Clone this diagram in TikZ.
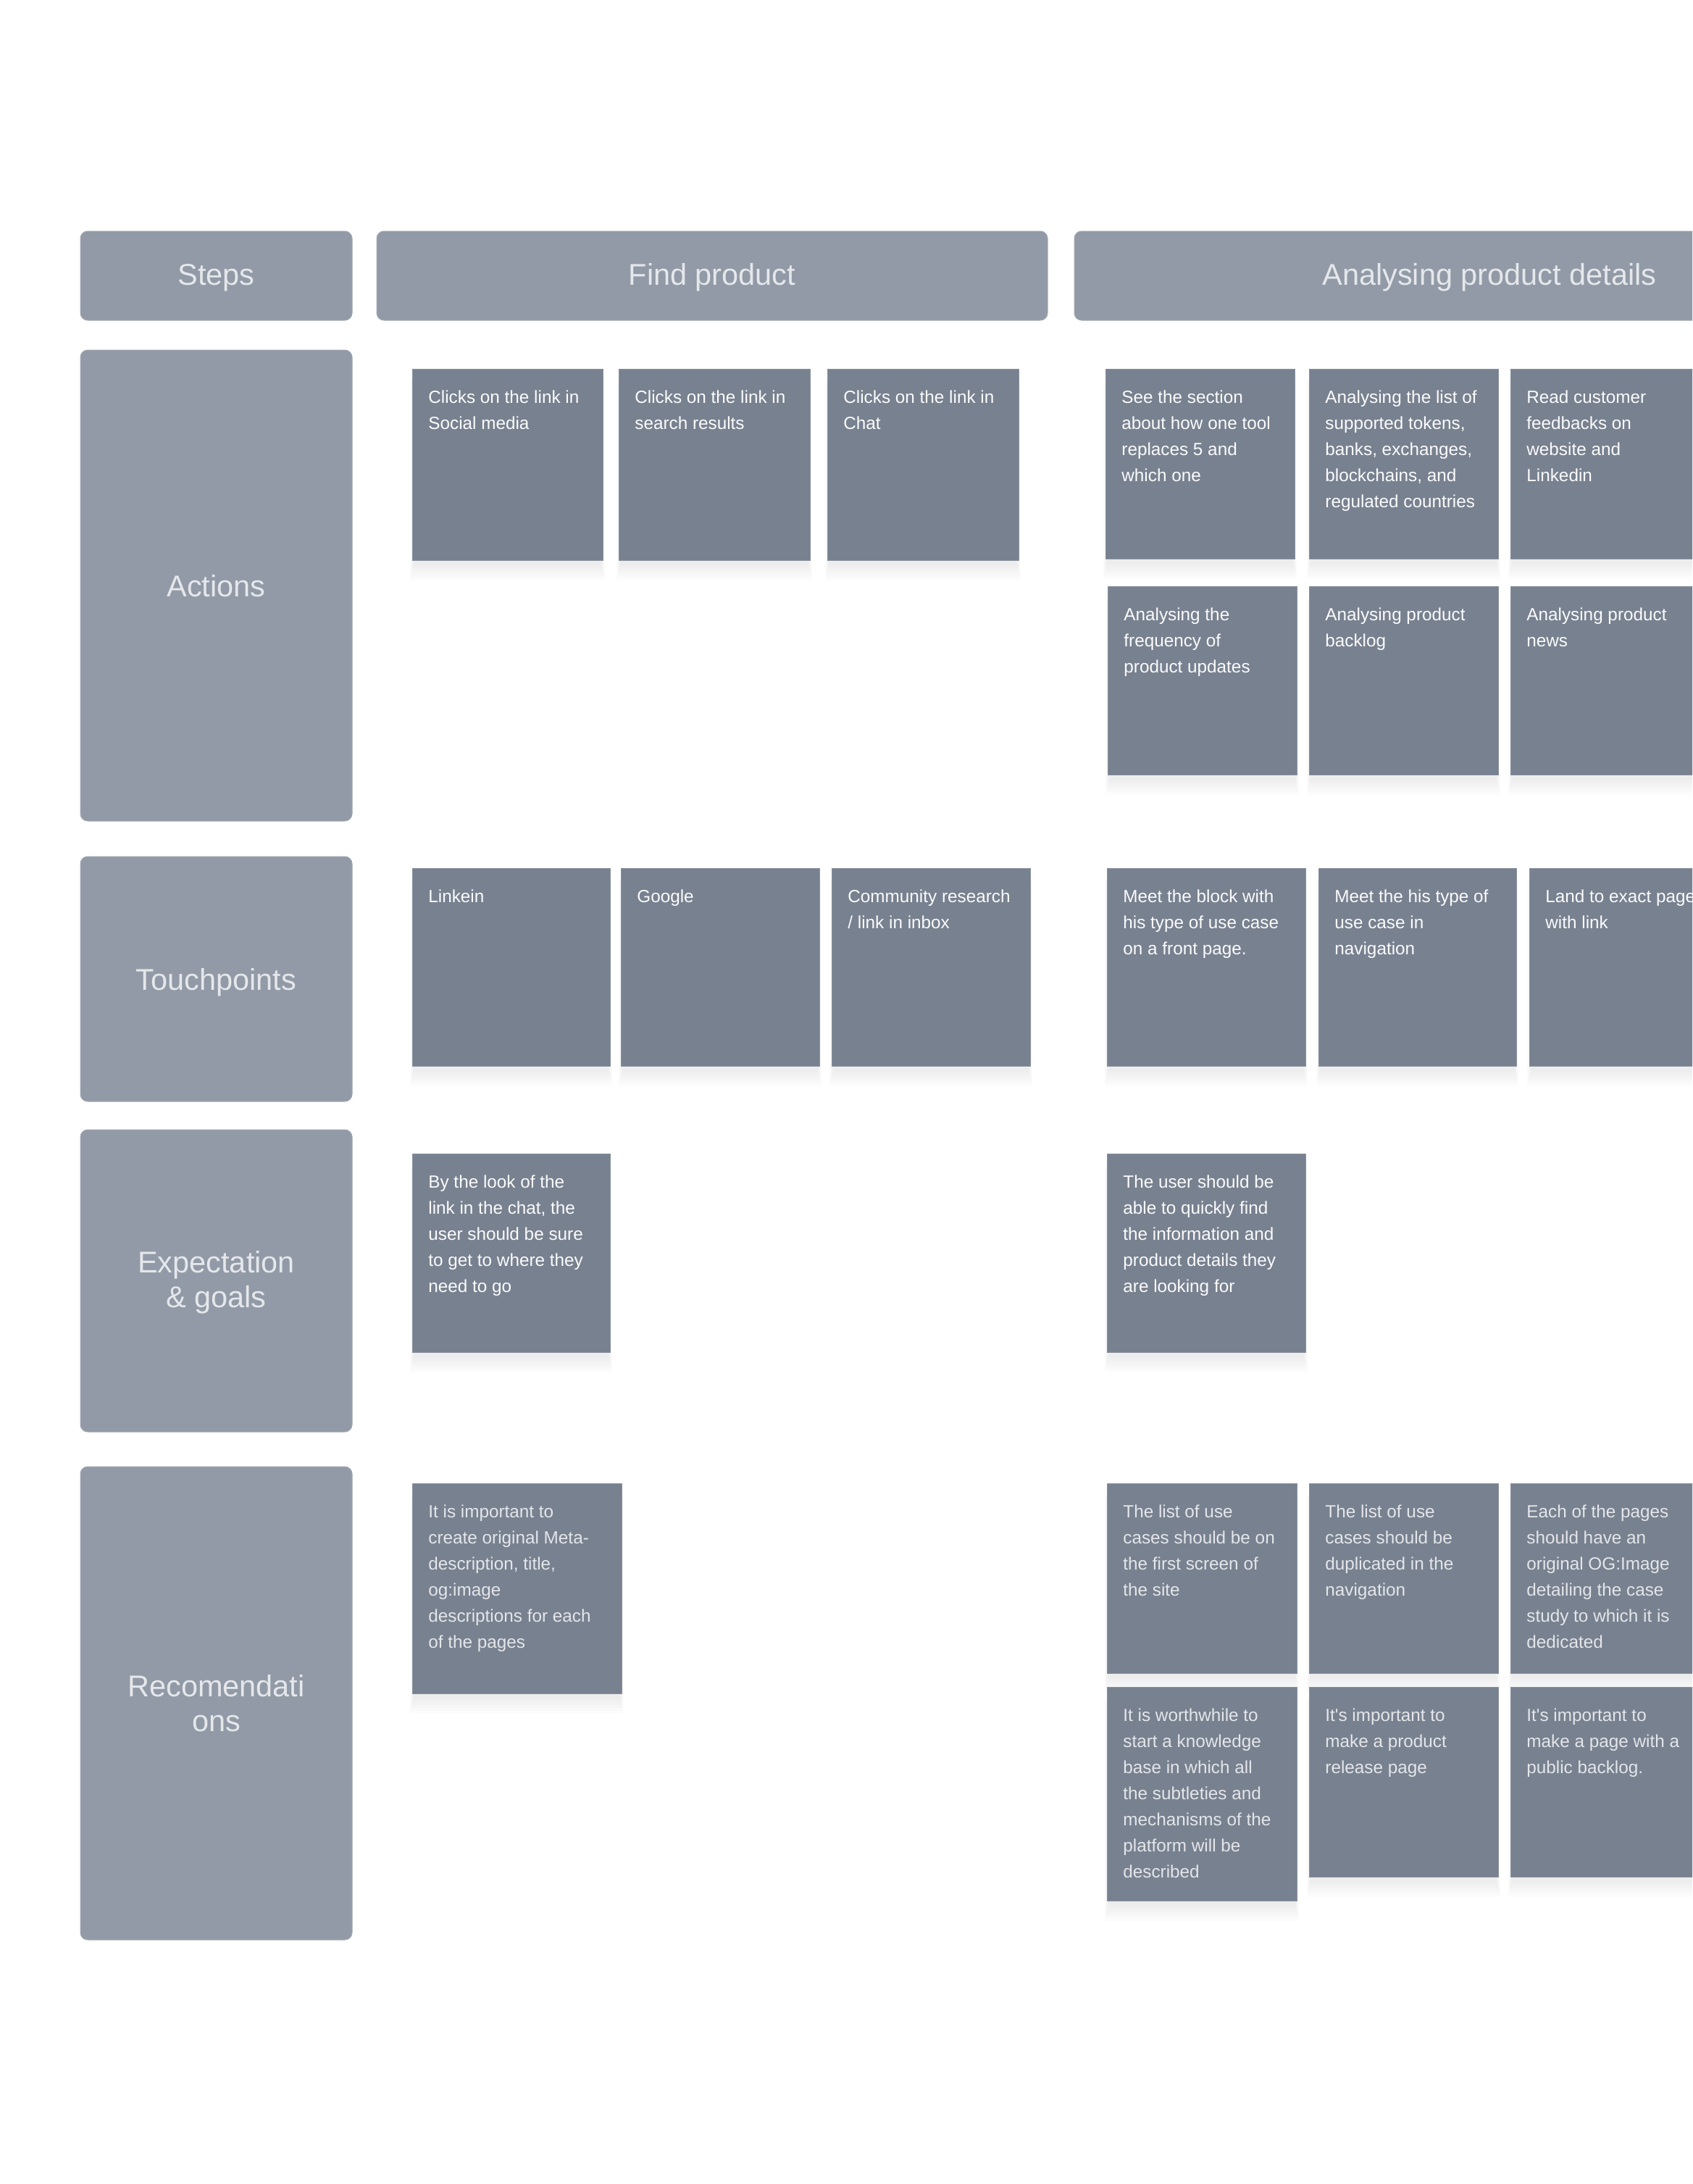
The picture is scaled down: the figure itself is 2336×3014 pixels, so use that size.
\documentclass[tikz,border=0pt]{standalone}
\usepackage{fontspec}
\setmainfont{Liberation Sans}
\usetikzlibrary{fit}
\definecolor{hdrfill}{HTML}{919AA6}
\definecolor{hdredge}{HTML}{A2A9B3}
\definecolor{hdrtext}{HTML}{E5E7EB}
\definecolor{cardfill}{HTML}{78818F}
\definecolor{cardedge}{HTML}{8A929E}
\definecolor{cardtext}{HTML}{FBFBFC}
\definecolor{rectext}{HTML}{E4E6EA}
\tikzset{
  hdrbox/.style={fill=hdrfill, draw=hdredge, line width=0.5pt, rounded corners=5pt, inner sep=0pt},
  hdrlabel/.style={anchor=north, inner sep=0pt, align=center, text=hdrtext,
    font=\fontsize{20.75}{24}\selectfont},
  cardbox/.style={fill=cardfill, draw=cardedge, line width=0.5pt, inner sep=0pt},
  cardshadow/.style={fill=black, opacity=0.012},
  cardlabel/.style={anchor=north west, inner sep=0pt, align=left, text=cardtext,
    font=\fontsize{12.15}{18}\selectfont},
  reclabel/.style={text=rectext},
}
% header / row label box: name, x1, y1, x2, y2, offset of text top from centre, text
\newcommand\hdr[7]{%
  \node[hdrbox, fit={(#2,#3) (#4,#5)}] (#1) {};
  \node[hdrlabel] (#1-t) at ([yshift=#6*0.5pt]#1.center) {\strut #7};
}
% card: [label style] name, x1, y1, x2, y2, text
\newcommand\card[7][]{%
  \foreach \k in {1,...,6}{\fill[cardshadow] (#3+3-\k,#4+6+2*\k) rectangle (#5-3+\k,#6+4+4*\k);}
  \node[cardbox, fit={(#3,#4) (#5,#6)}] (#2) {};
  \node[cardlabel, #1] (#2-t) at ([shift={(22.5,22.8)}]#2.north west) {\strut #7};
}
\begin{document}
\begin{tikzpicture}[x=0.5pt,y=-0.5pt]
\clip (0,0) rectangle (2336,3014);
\fill[white] (0,0) rectangle (2336,3014);

% column headers
\hdr{steps}{111}{319}{486}{442}{21}{Steps}
\hdr{find}{520}{319}{1446}{442}{21}{Find product}
\hdr{analyse}{1483}{319}{2629}{442}{21}{Analysing product details}

% row labels
\hdr{actions}{111}{483}{486}{1133}{19}{Actions}
\hdr{touch}{111}{1182}{486}{1520}{19}{Touchpoints}
\hdr{expect}{111}{1559}{486}{1976}{45}{Expectation\\\& goals}
\hdr{recom}{111}{2024}{486}{2677}{43}{Recomendati\\ons}

% Actions - Find product
\card{a1}{569}{509}{832}{773}{Clicks on the link in\\Social media}
\card{a2}{854}{509}{1118}{773}{Clicks on the link in\\search results}
\card{a3}{1142}{509}{1406}{773}{Clicks on the link in\\Chat}

% Actions - Analysing
\card{a4}{1526}{509}{1787}{771}{See the section\\about how one tool\\replaces 5 and\\which one}
\card{a5}{1807}{509}{2068}{771}{Analysing the list of\\supported tokens,\\banks, exchanges,\\blockchains, and\\regulated countries}
\card{a6}{2085}{509}{2346}{771}{Read customer\\feedbacks on\\website and\\Linkedin}
\card{a7}{1529}{809}{1790}{1069}{Analysing the\\frequency of\\product updates}
\card{a8}{1807}{809}{2068}{1069}{Analysing product\\backlog}
\card{a9}{2085}{809}{2346}{1069}{Analysing product\\news}

% Touchpoints
\card{t1}{569}{1198}{842}{1471}{Linkein}
\card{t2}{857}{1198}{1131}{1471}{Google}
\card{t3}{1148}{1198}{1422}{1471}{Community research\\/ link in inbox}
\card{t4}{1528}{1198}{1802}{1471}{Meet the block with\\his type of use case\\on a front page.}
\card{t5}{1820}{1198}{2093}{1471}{Meet the his type of\\use case in\\navigation}
\card{t6}{2111}{1198}{2384}{1471}{Land to exact page\\with link}

% Expectation & goals
\card{e1}{569}{1592}{842}{1866}{By the look of the\\link in the chat, the\\user should be sure\\to get to where they\\need to go}
\card{e2}{1528}{1592}{1802}{1866}{The user should be\\able to quickly find\\the information and\\product details they\\are looking for}

% Recommendations
\card[reclabel]{r1}{569}{2047}{858}{2337}{It is important to\\create original Meta-\\description, title,\\og:image\\descriptions for each\\of the pages}
\card[reclabel]{r2}{1528}{2047}{1790}{2309}{The list of use\\cases should be on\\the first screen of\\the site}
\card[reclabel]{r3}{1807}{2047}{2068}{2309}{The list of use\\cases should be\\duplicated in the\\navigation}
\card[reclabel]{r4}{2085}{2047}{2346}{2309}{Each of the pages\\should have an\\original OG:Image\\detailing the case\\study to which it is\\dedicated}
\card[reclabel]{r5}{1528}{2328}{1790}{2623}{It is worthwhile to\\start a knowledge\\base in which all\\the subtleties and\\mechanisms of the\\platform will be\\described}
\card[reclabel]{r6}{1807}{2328}{2068}{2590}{It\textquotesingle s important to\\make a product\\release page}
\card[reclabel]{r7}{2085}{2328}{2346}{2590}{It\textquotesingle s important to\\make a page with a\\public backlog.}
\end{tikzpicture}
\end{document}
